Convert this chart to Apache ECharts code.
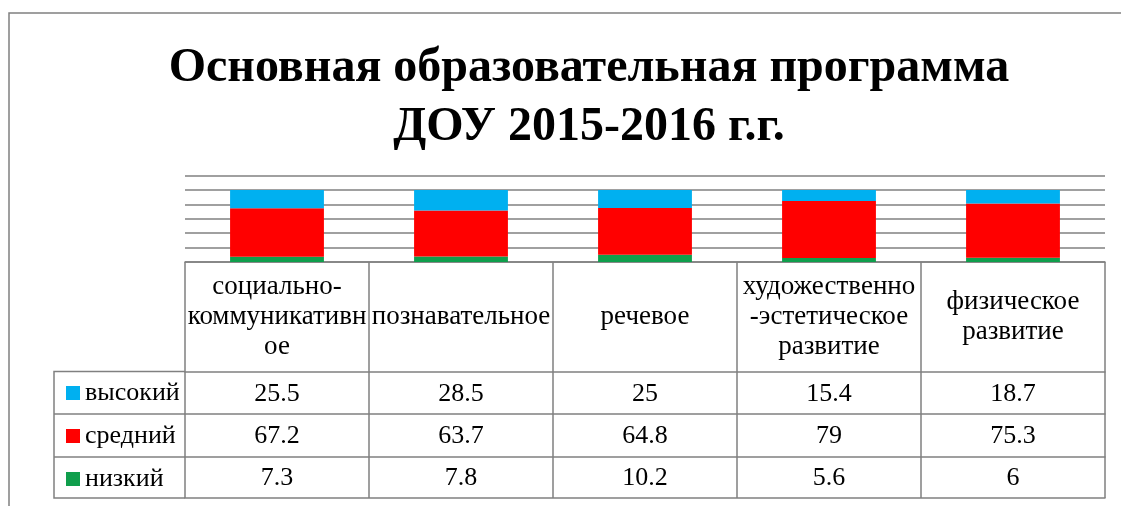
<!DOCTYPE html>
<html>
<head>
<meta charset="utf-8">
<script src="https://cdn.jsdelivr.net/npm/echarts@6/dist/echarts.min.js"></script>
<style>
  html, body { margin: 0; padding: 0; background: #fff; }
  #chart { width: 1121px; height: 506px; }
</style>
</head>
<body>
<div id="chart"></div>
<script>
const categories = [
  'социально-\nкоммуникативн\nое',
  'познавательное',
  'речевое',
  'художественно\n-эстетическое\nразвитие',
  'физическое\nразвитие'
];
const high = [25.5, 28.5, 25, 15.4, 18.7];
const mid = [67.2, 63.7, 64.8, 79, 75.3];
const low = [7.3, 7.8, 10.2, 5.6, 6];
const seriesNames = ['высокий', 'средний', 'низкий'];

// table geometry
const axisY = 262;
const rowTops = [371.5, 414, 457];
const tableBottom = 498;
const legendLeft = 54;
const gridLeft = 185;

const font = 'Liberation Serif';
const gray = '#808080';
const border = { color: gray, width: 1.5 };
const cellText = { fontFamily: font, fontSize: 26, color: '#000' };

const chart = echarts.init(document.getElementById('chart'));

const rowAxis = (i, values) => ({
  type: 'category',
  data: categories,
  position: 'bottom',
  offset: rowTops[i] - axisY,
  axisLine: { show: true, lineStyle: border },
  axisTick: { show: false },
  axisLabel: {
    ...cellText,
    interval: 0,
    margin: (i < 2 ? rowTops[i + 1] : tableBottom) / 2 - rowTops[i] / 2 + 1,
    verticalAlign: 'middle',
    formatter: (v, idx) => String(values[idx])
  }
});

const option = {
  backgroundColor: '#fff',
  animation: false,
  title: {
    text: 'Основная образовательная программа\nДОУ 2015-2016 г.г.',
    left: 589,
    top: 39,
    padding: 0,
    textAlign: 'center',
    textStyle: {
      fontFamily: font,
      fontWeight: 'bold',
      fontSize: 48,
      lineHeight: 59,
      color: '#000'
    }
  },
  legend: {
    data: seriesNames,
    orient: 'vertical',
    left: 61,
    top: 375,
    itemWidth: 14,
    itemHeight: 14,
    itemGap: 17,
    itemTextGap: 6,
    icon: 'rect',
    textStyle: { ...cellText, lineHeight: 26 }
  },
  grid: {
    left: gridLeft,
    right: 16,
    top: 175.6,
    bottom: 506 - axisY,
    outerBoundsMode: 'none'
  },
  yAxis: {
    type: 'value',
    min: 0,
    max: 120,
    interval: 20,
    axisLine: { show: false },
    axisTick: { show: false },
    axisLabel: { show: false },
    splitLine: { lineStyle: border }
  },
  xAxis: [
    {
      type: 'category',
      data: categories,
      position: 'bottom',
      axisLine: { show: true, lineStyle: border },
      axisTick: { show: true, length: tableBottom - axisY, lineStyle: border },
      axisLabel: {
        ...cellText,
        fontSize: 27,
        interval: 0,
        lineHeight: 30,
        margin: (rowTops[0] - axisY) / 2,
        verticalAlign: 'middle'
      }
    },
    rowAxis(0, high),
    rowAxis(1, mid),
    rowAxis(2, low),
    {
      type: 'category',
      data: categories,
      position: 'bottom',
      offset: tableBottom - axisY,
      axisLine: { show: true, lineStyle: border },
      axisTick: { show: false },
      axisLabel: { show: false }
    }
  ],
  series: [
    { name: 'низкий', type: 'bar', stack: 'all', data: low, barWidth: '51%', itemStyle: { color: '#0F9E4C' } },
    { name: 'средний', type: 'bar', stack: 'all', data: mid, itemStyle: { color: '#FF0000' } },
    { name: 'высокий', type: 'bar', stack: 'all', data: high, itemStyle: { color: '#00B0F0' } }
  ],
  graphic: [
    // outer frame
    {
      type: 'polyline',
      shape: { points: [[9, 506], [9, 13], [1121, 13]] },
      style: { stroke: gray, lineWidth: 1.5, fill: null }
    },
    // legend column of the data table
    {
      type: 'polyline',
      shape: { points: [[gridLeft, rowTops[0]], [legendLeft, rowTops[0]], [legendLeft, tableBottom], [gridLeft, tableBottom]] },
      style: { stroke: gray, lineWidth: 1.5, fill: null }
    },
    {
      type: 'line',
      shape: { x1: legendLeft, y1: rowTops[1], x2: gridLeft, y2: rowTops[1] },
      style: { stroke: gray, lineWidth: 1.5 }
    },
    {
      type: 'line',
      shape: { x1: legendLeft, y1: rowTops[2], x2: gridLeft, y2: rowTops[2] },
      style: { stroke: gray, lineWidth: 1.5 }
    }
  ]
};

chart.setOption(option);
</script>
</body>
</html>
